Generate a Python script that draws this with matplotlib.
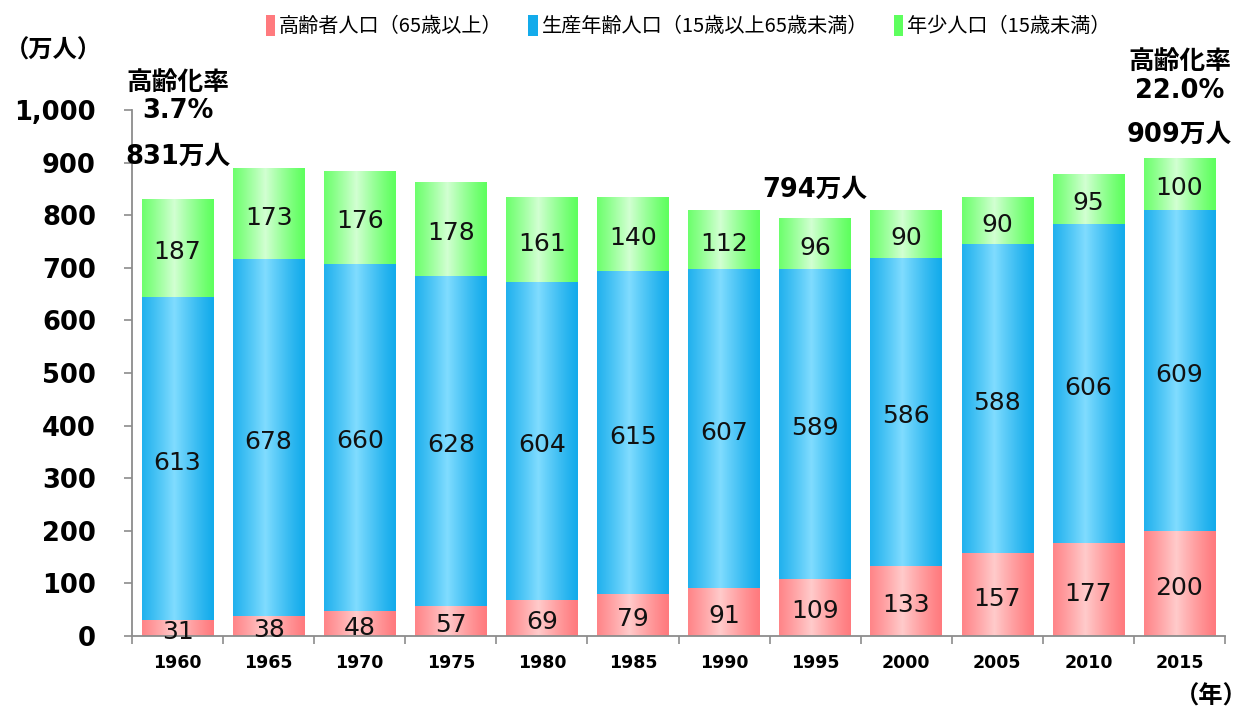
import numpy as np
import matplotlib
matplotlib.use("Agg")
import matplotlib.pyplot as plt
from matplotlib.colors import LinearSegmentedColormap
from matplotlib.patches import Patch

years = ["1960", "1965", "1970", "1975", "1980", "1985", "1990", "1995", "2000", "2005", "2010", "2015"]
elderly = [31, 38, 48, 57, 69, 79, 91, 109, 133, 157, 177, 200]
working = [613, 678, 660, 628, 604, 615, 607, 589, 586, 588, 606, 609]
young = [187, 173, 176, 178, 161, 140, 112, 96, 90, 90, 95, 100]
series_names = ["高齢者人口（65歳以上）", "生産年齢人口（15歳以上65歳未満）", "年少人口（15歳未満）"]
yticks = [0, 100, 200, 300, 400, 500, 600, 700, 800, 900, 1000]
ytick_labels = ["0", "100", "200", "300", "400", "500", "600", "700", "800", "900", "1,000"]

edge_cols = ["#FF7A7E", "#13ABEB", "#5EFF5E"]
mid_cols = ["#FFCBCB", "#80DCFF", "#D2FFD2"]

JP = ["DejaVu Sans", "Noto Sans CJK JP"]
CJK = ["Noto Sans CJK JP", "DejaVu Sans"]

fig = plt.figure(figsize=(12.49, 7.09), dpi=100)
ax = fig.add_axes([0.1057, 0.1030, 0.8751, 0.7419])

x = np.arange(len(years))
width = 0.785
bottoms = np.zeros(len(years))
grad_x = np.linspace(0, 1, 256)
prof = np.clip(1 - np.abs(grad_x - 0.45) / 0.55, 0, 1) ** 1.2
grad = prof[np.newaxis, :]

for vals, ec, mc in zip([elderly, working, young], edge_cols, mid_cols):
    cmap = LinearSegmentedColormap.from_list("g", [ec, mc])
    bars = ax.bar(x, vals, width, bottom=bottoms, color="none", edgecolor="none", zorder=2)
    for b, v, bt in zip(bars, vals, bottoms):
        x0, y0 = b.get_x(), b.get_y()
        im = ax.imshow(grad, cmap=cmap, vmin=0, vmax=1, aspect="auto",
                       extent=[x0, x0 + b.get_width(), y0, y0 + b.get_height()],
                       zorder=2, interpolation="bilinear")
        im.set_clip_path(b)
        ax.annotate(str(v), (b.get_x() + b.get_width() / 2, bt + v / 2),
                    xytext=(0, -3), textcoords="offset points", ha="center", va="center",
                    fontsize=18, family="DejaVu Sans", color="#111111", zorder=4)
    bottoms = bottoms + np.array(vals)

ax.set_xlim(-0.5, len(years) - 0.5)
ax.set_ylim(0, 1000)

for s in ["top", "right"]:
    ax.spines[s].set_visible(False)
for s in ["left", "bottom"]:
    ax.spines[s].set_color("#8c8c8c")
    ax.spines[s].set_linewidth(1.3)

ax.set_yticks(yticks)
ax.set_yticklabels(ytick_labels, fontsize=18.5, fontweight="bold", family="DejaVu Sans")
ax.tick_params(axis="y", length=6, width=1.2, color="#8c8c8c", pad=20)
ax.set_xticks(x)
ax.set_xticklabels(years, fontsize=12.5, fontweight="bold", family="DejaVu Sans")
ax.set_xticks(np.arange(-0.5, len(years)), minor=True)
ax.tick_params(axis="x", which="major", length=0, pad=13)
ax.tick_params(axis="x", which="minor", length=6, width=1.2, color="#8c8c8c")

totals = bottoms
fs = 18.5
ax.text(0, totals[0] + 80, f"{int(totals[0])}万人", ha="center", va="center",
        fontsize=fs, fontweight="bold", family=JP, clip_on=False)
ax.text(0, 1052, "高齢化率", ha="center", va="center", fontsize=fs, fontweight="bold", family=CJK, clip_on=False)
ax.text(0, 998, "3.7%", ha="center", va="center", fontsize=fs, fontweight="bold", family=JP, clip_on=False)
ax.text(7, totals[7] + 54, f"{int(totals[7])}万人", ha="center", va="center",
        fontsize=fs, fontweight="bold", family=JP, clip_on=False)
ax.text(11, totals[11] + 43, f"{int(totals[11])}万人", ha="center", va="center",
        fontsize=fs, fontweight="bold", family=JP, clip_on=False)
ax.text(11, 1093, "高齢化率", ha="center", va="center", fontsize=fs, fontweight="bold", family=CJK, clip_on=False)
ax.text(11, 1036, "22.0%", ha="center", va="center", fontsize=fs, fontweight="bold", family=JP, clip_on=False)

fig.text(0.004, 0.929, "（万人）", ha="left", va="center", fontsize=17.5, fontweight="bold", family=CJK)
fig.text(0.999, 0.018, "（年）", ha="right", va="center", fontsize=17.5, fontweight="bold", family=CJK)

handles = [Patch(facecolor=c, edgecolor="none") for c in edge_cols]
fig.legend(handles, series_names, loc="center", bbox_to_anchor=(0.551, 0.963), ncol=3, frameon=False,
           prop={"family": CJK, "size": 14.5}, handlelength=0.45, handleheight=1.2, handletextpad=0.2,
           columnspacing=1.3)

fig.savefig("out.png", dpi=100)
